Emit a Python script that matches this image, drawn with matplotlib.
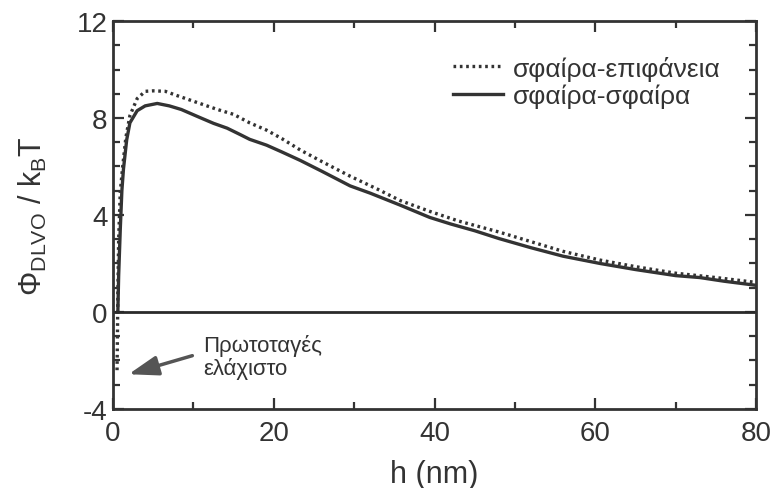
import matplotlib.pyplot as plt
from matplotlib.ticker import MultipleLocator

plt.rcParams['font.family'] = ['Liberation Sans', 'DejaVu Sans']
plt.rcParams['mathtext.fontset'] = 'custom'
plt.rcParams['mathtext.rm'] = 'Liberation Sans'
plt.rcParams['mathtext.it'] = 'Liberation Sans'
plt.rcParams['axes.unicode_minus'] = False

# sphere-plane (dotted)
h_plane = [0.5, 0.55, 0.6, 0.7, 0.9, 1.2, 1.6, 2.1, 3, 4, 5, 6.5, 8, 10.8, 13, 15, 17, 19.1,
           21, 23.3, 26, 29.5, 33, 35.7, 39.4, 43, 48, 52, 56, 60.6, 65, 70, 75, 80]
phi_plane = [-2.4, -1.0, 0.8, 3.0, 4.95, 6.0, 7.2, 8.1, 8.8, 9.1, 9.12, 9.1, 8.92, 8.6, 8.35, 8.15, 7.8, 7.5,
             7.15, 6.68, 6.2, 5.6, 5.05, 4.6, 4.15, 3.75, 3.3, 2.9, 2.5, 2.14, 1.87, 1.6, 1.42, 1.22]

# sphere-sphere (solid)
h_sphere = [0.6, 0.7, 0.9, 1.1, 1.3, 1.7, 2.1, 3, 4, 5.5, 7, 8.5, 10.8, 12.5, 14.2, 15.8, 17, 19.1,
            21, 23.3, 26, 29.5, 32, 35.7, 39.4, 42, 45, 48, 52, 56, 60.6, 65, 70, 73, 76, 80]
phi_sphere = [0, 1.5, 3.4, 5.0, 5.9, 7.1, 7.8, 8.3, 8.5, 8.6, 8.5, 8.35, 8.02, 7.78, 7.58, 7.32, 7.12, 6.88,
              6.6, 6.25, 5.8, 5.2, 4.9, 4.41, 3.9, 3.63, 3.35, 3.03, 2.65, 2.3, 2.0, 1.75, 1.5, 1.42, 1.27, 1.1]

labels = ['σφαίρα-επιφάνεια', 'σφαίρα-σφαίρα']
line_col = '#333333'

fig = plt.figure(figsize=(7.71, 4.89), dpi=100)
ax = fig.add_axes([0.1466, 0.1616, 0.834, 0.7934])

ax.plot(h_plane, phi_plane, color=line_col, lw=2.4, ls=(0, (0.8, 1.1)), label=labels[0])
ax.plot(h_sphere, phi_sphere, color=line_col, lw=2.4, label=labels[1])
ax.axhline(0, color='#2a2a2a', lw=2)

ax.set_xlim(0, 80)
ax.set_ylim(-4, 12)
ax.xaxis.set_major_locator(MultipleLocator(20))
ax.xaxis.set_minor_locator(MultipleLocator(10))
ax.yaxis.set_major_locator(MultipleLocator(4))
ax.yaxis.set_minor_locator(MultipleLocator(1))
ax.tick_params(which='both', direction='in', top=True, right=True, colors='#333333',
               labelcolor='#333333', labelsize=20, width=1.6)
ax.tick_params(axis='x', pad=8)
ax.tick_params(axis='y', pad=4)
ax.tick_params(which='major', length=8)
ax.tick_params(which='minor', length=5)
for s in ax.spines.values():
    s.set_linewidth(2)
    s.set_color('#333333')

ax.set_xlabel('h (nm)', fontsize=22, color='#333333', labelpad=9)
ax.set_ylabel(r'$\Phi_{\rm DLVO}$ / k$_{\rm B}$T', fontsize=22, color='#333333', labelpad=20)

leg = ax.legend(loc='upper right', frameon=False, fontsize=19, handlelength=1.9,
                handletextpad=0.35, labelspacing=0.12, borderpad=0,
                bbox_to_anchor=(0.965, 0.945))
for t in leg.get_texts():
    t.set_color('#333333')

ax.annotate('', xy=(1.6, -2.6), xytext=(10.2, -1.77),
            arrowprops=dict(arrowstyle='-|>,head_length=0.9,head_width=0.3',
                            mutation_scale=20, color='#555555', lw=2.5))
ax.text(11.2, -1.84, 'Πρωτοταγές\nελάχιστο', fontsize=16, color='#333333',
        va='center', ha='left', linespacing=1.05)

fig.savefig('out.png', dpi=100)
